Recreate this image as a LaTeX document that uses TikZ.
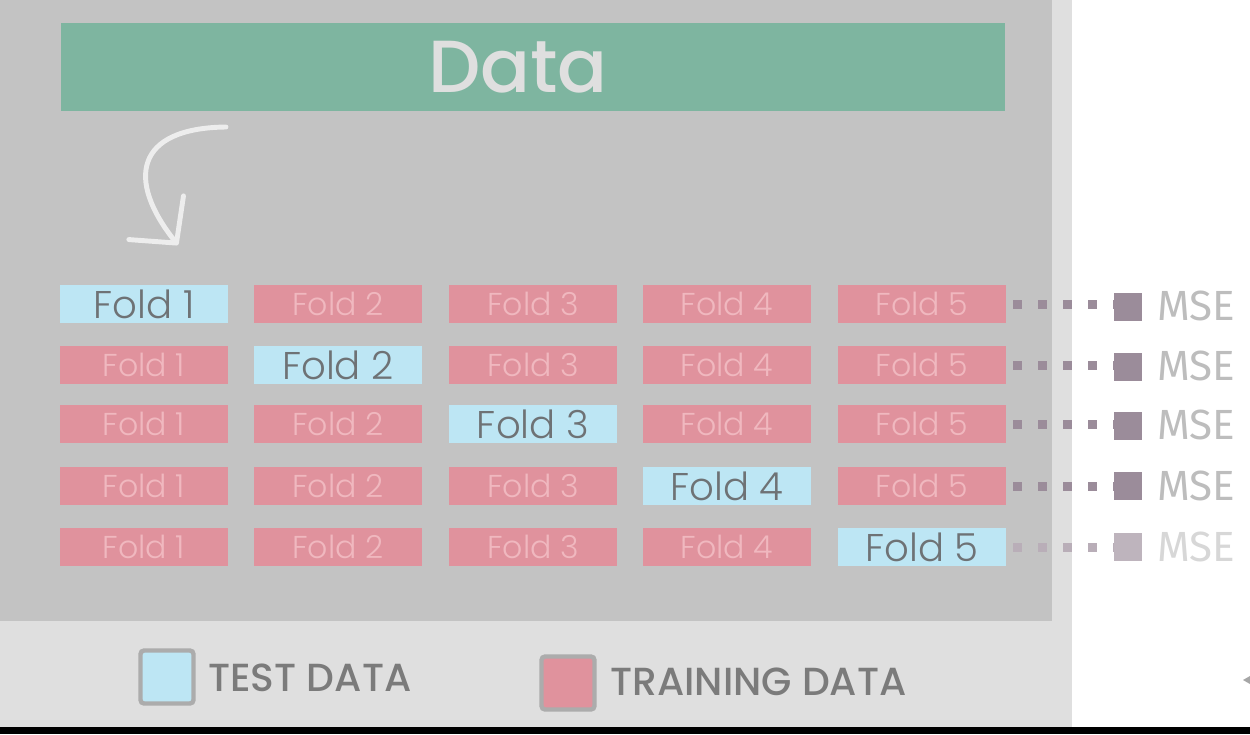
\documentclass[tikz,border=0pt]{standalone}
\usepackage{fontspec}
\usepackage{xcolor}
\usepackage{tikz}
\usetikzlibrary{arrows.meta,positioning,calc}
\setmainfont{Poppins}
\newfontfamily\foldfont{Poppins Light}
\newfontfamily\titlefont{Poppins Medium}
\newfontfamily\msefont{Fira Sans}

\definecolor{panelgray}{HTML}{C3C3C3}
\definecolor{stripgray}{HTML}{DFDFDF}
\definecolor{datagreen}{HTML}{7EB5A0}
\definecolor{testblue}{HTML}{BDE6F4}
\definecolor{trainpink}{HTML}{E0929D}
\definecolor{traintext}{HTML}{F0B8BF}
\definecolor{testtext}{HTML}{6E7275}
\definecolor{dotpurple}{HTML}{9B8C9A}
\definecolor{msegray}{HTML}{BDBDBD}
\definecolor{legendtext}{HTML}{7B7B7B}

\begin{document}
\begin{tikzpicture}[
  x=0.02cm, y=-0.02cm,
  test/.style={fill=testblue, minimum width=3.36cm, minimum height=0.77cm,
               inner sep=0pt, text=testtext, font=\foldfont\fontsize{22}{22}\selectfont},
  train/.style={fill=trainpink, minimum width=3.36cm, minimum height=0.77cm,
                inner sep=0pt, text=traintext, font=\foldfont\fontsize{18}{18}\selectfont},
  msebox/.style={fill=dotpurple, minimum size=0.57cm, inner sep=0pt},
  mselabel/.style={text=msegray, inner sep=0pt, anchor=west,
                   font=\msefont\fontsize{24}{24}\selectfont},
  dots/.style={dotpurple, line width=0.18cm, dash pattern=on 0.18cm off 0.32cm,
               shorten <=0.14cm},
  key/.style={draw=gray!65, line width=2.5pt, rounded corners=2pt,
              minimum width=1.06cm, minimum height=1.06cm, inner sep=0pt},
  keylabel/.style={text=legendtext, inner sep=0pt, anchor=west,
                   font=\titlefont\fontsize{22.3}{22.3}\selectfont}
]
  \useasboundingbox (0,0) rectangle (1250,734);
  % background panels
  \fill[white] (0,0) rectangle (1250,734);
  \fill[stripgray] (0,0) rectangle (1072,727);
  \fill[panelgray] (0,0) rectangle (1052,621);
  \fill[black] (0,727) rectangle (1250,734);

  \node[fill=datagreen, minimum width=18.9cm, minimum height=1.76cm] (data) at (533,67) {};
  \node[text=stripgray, inner sep=0pt, font=\titlefont\fontsize{42}{42}\selectfont]
    (datalabel) at (518,67) {Data};

  % curved arrow
  \coordinate (arrstart) at (226,127);
  \coordinate (arrend) at (178,245);
  \draw[white!93!black, line width=2.8pt, line cap=round,
        -{Straight Barb[length=6.5mm,width=14mm,round]}]
    (arrstart) .. controls (135,128) and (126,180) .. (arrend);

  % row 1
  \node[test]  (f11) at (144,304) {Fold 1};
  \node[train] (f12) at (338,304) {Fold 2};
  \node[train] (f13) at (533,304) {Fold 3};
  \node[train] (f14) at (727,304) {Fold 4};
  \node[train] (f15) at (922,304) {Fold 5};
  % row 2
  \node[train] (f21) at (144,365) {Fold 1};
  \node[test]  (f22) at (338,365) {Fold 2};
  \node[train] (f23) at (533,365) {Fold 3};
  \node[train] (f24) at (727,365) {Fold 4};
  \node[train] (f25) at (922,365) {Fold 5};
  % row 3
  \node[train] (f31) at (144,424) {Fold 1};
  \node[train] (f32) at (338,424) {Fold 2};
  \node[test]  (f33) at (533,424) {Fold 3};
  \node[train] (f34) at (727,424) {Fold 4};
  \node[train] (f35) at (922,424) {Fold 5};
  % row 4
  \node[train] (f41) at (144,486) {Fold 1};
  \node[train] (f42) at (338,486) {Fold 2};
  \node[train] (f43) at (533,486) {Fold 3};
  \node[test]  (f44) at (727,486) {Fold 4};
  \node[train] (f45) at (922,486) {Fold 5};
  % row 5
  \node[train] (f51) at (144,547) {Fold 1};
  \node[train] (f52) at (338,547) {Fold 2};
  \node[train] (f53) at (533,547) {Fold 3};
  \node[train] (f54) at (727,547) {Fold 4};
  \node[test]  (f55) at (922,547) {Fold 5};

  % errors per split
  \node[msebox] (m1) at (1128,307) {};
  \node[msebox] (m2) at (1128,367) {};
  \node[msebox] (m3) at (1128,426) {};
  \node[msebox] (m4) at (1128,486) {};
  \node[msebox, fill=dotpurple!65] (m5) at (1128,547) {};
  \node[mselabel] (e1) at (1157,306) {MSE};
  \node[mselabel] (e2) at (1157,366) {MSE};
  \node[mselabel] (e3) at (1157,425) {MSE};
  \node[mselabel] (e4) at (1157,486) {MSE};
  \node[mselabel, text=msegray!60] (e5) at (1157,547) {MSE};

  \draw[dots] (f15.east) -- (f15.east -| m1.west);
  \draw[dots] (f25.east) -- (f25.east -| m2.west);
  \draw[dots] (f35.east) -- (f35.east -| m3.west);
  \draw[dots] (f45.east) -- (f45.east -| m4.west);
  \draw[dots, dotpurple!70] (f55.east) -- (m5.west);

  % legend
  \node[key, fill=testblue] (ktest) at (167,677) {};
  \node[keylabel] (ltest) at (208,678) {TEST DATA};
  \node[key, fill=trainpink] (ktrain) at (568,683) {};
  \node[keylabel] (ltrain) at (610,682) {TRAINING DATA};

  % cut-off marker at the right edge
  \fill[gray!70] (1243,680) -- (1250,676) -- (1250,684) -- cycle;
\end{tikzpicture}
\end{document}
